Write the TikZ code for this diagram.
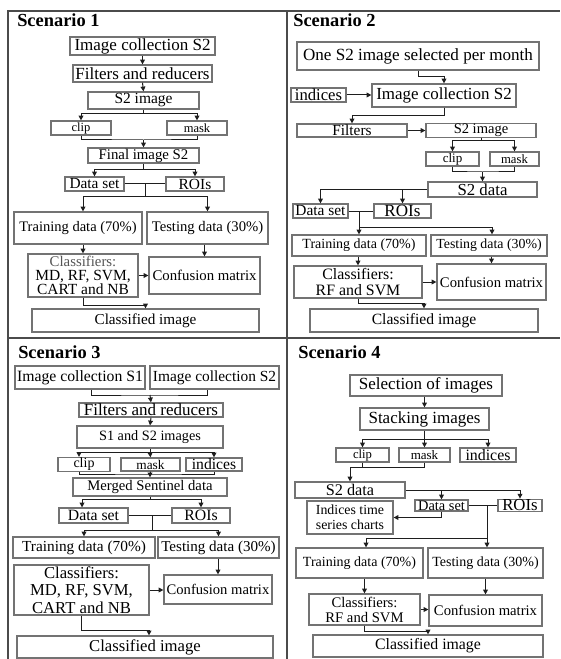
\documentclass[tikz,border=0pt]{standalone}
\usepackage{fontspec}
\setmainfont{Liberation Serif}
\usetikzlibrary{arrows.meta}
\definecolor{boxgray}{RGB}{115,115,115}
\definecolor{linec}{RGB}{30,30,30}
\definecolor{framec}{RGB}{75,75,75}
\definecolor{cgray}{RGB}{85,85,85}
\newcommand\fz[1]{\fontsize{#1}{#1}\selectfont}
\newcommand\bx[7][]{\node[bx,#1,minimum width={(#5-#3)*0.75pt},minimum height={(#6-#4)*0.75pt}] (#2) at ({(#3+#5)/2},{(#4+#6)/2}) {#7};}
\tikzset{
  bx/.style={draw=boxgray,line width=0.9pt,fill=white,inner sep=0.5pt,align=center,text=black},
  arr/.style={draw=linec,line width=0.75pt,-{Triangle[length=3.6pt,width=3.6pt]}},
  ln/.style={draw=linec,line width=0.75pt},
  frame/.style={draw=framec,line width=1.5pt},
  frametwo/.style={draw=framec,line width=1.1pt},
  ttl/.style={font=\bfseries\fontsize{13.8}{14}\selectfont,anchor=base west,inner sep=0pt}
}
\begin{document}
\begin{tikzpicture}[x=0.75pt,y=-0.75pt]
\useasboundingbox (0,0) rectangle (560,659);
% frame
\draw[frame] (8,11.5) -- (560,11.5);
\draw[frame] (8,10.5) -- (8,659);
\draw[frame] (8,338) -- (560,338);
\draw[frametwo] (287,11.5) -- (287,659);
% titles
\node[ttl] (t1) at (17,27) {Scenario 1};
\node[ttl] (t2) at (293,27) {Scenario 2};
\node[ttl] (t3) at (18,358) {Scenario 3};
\node[ttl] (t4) at (298,358) {Scenario 4};

% ---------------- Scenario 1
\bx[font=\fz{12.75}]{s1ic}{70}{37}{215}{55}{Image collection S2}
\bx[font=\fz{12.75}]{s1fr}{73}{65}{212}{82}{Filters and reducers}
\bx[font=\fz{11.6}]{s1img}{88}{92}{199}{109}{S2 image}
\bx[font=\fz{9.4}]{s1clip}{51}{121}{111}{135}{clip}
\bx[font=\fz{9.4}]{s1mask}{167}{121}{227}{135}{mask}
\bx[font=\fz{11.1}]{s1fin}{88}{148}{199}{163}{Final image S2}
\bx[font=\fz{11.5}]{s1ds}{65}{177}{124}{191}{Data set}
\bx[font=\fz{11.6}]{s1roi}{166}{177}{224}{191}{ROIs}
\bx[font=\fz{10.9}]{s1tr}{14}{212}{142}{244}{Training data (70\%)}
\bx[font=\fz{11}]{s1te}{147}{212}{268}{244}{Testing data (30\%)}
\bx[font=\fontsize{11.6}{10.5}\selectfont]{s1cl}{28}{254}{138}{297}{{\color{cgray}\fontsize{11.1}{10.5}\selectfont Classifiers:}\\MD, RF, SVM,\\CART and NB}
\bx[font=\fz{11.1}]{s1cm}{149}{257}{260}{294}{Confusion matrix}
\bx[font=\fz{11.4}]{s1ci}{32}{309}{259}{332}{Classified image}

\draw[arr] (s1ic.south) -- (s1fr.north);
\draw[arr] (s1fr.south) -- (s1img.north);
\coordinate (s1a) at (143.5,114);
\draw[ln] (s1img.south) -- (s1a);
\draw[arr] (s1a) -| (s1clip.north);
\draw[arr] (s1a) -| (s1mask.north);
\coordinate (s1b) at (143.5,140);
\draw[ln] (s1clip.south) |- (s1b) -| (s1mask.south);
\draw[arr] (s1b) -- (s1fin.north);
\coordinate (s1c) at (143.5,170);
\draw[ln] (s1fin.south) -- (s1c);
\draw[arr] (s1c) -| (s1ds.north);
\draw[arr] (s1c) -| (s1roi.north);
\draw[ln] (s1ds.east) -- (s1roi.west);
\coordinate (s1d) at (145,197);
\draw[ln] (s1d |- s1ds.east) -- (s1d);
\draw[arr] (s1d) -| ([xshift=3.75pt]s1tr.north);
\draw[arr] (s1d) -| (s1te.north);
\draw[arr] ([xshift=3.75pt]s1tr.south) -- (s1cl.north);
\draw[arr] (s1cm.north |- s1te.south) -- (s1cm.north);
\draw[arr] (s1cl.east) -- (s1cm.west |- s1cl.east);
\coordinate (s1e) at (83,305);
\draw[arr] (s1cl.south) -- (s1e) -| (s1ci.north);

% ---------------- Scenario 2
\bx[font=\fz{12.8}]{s2one}{297}{42}{539}{70}{One S2 image selected per month}
\bx[font=\fz{12.7}]{s2ic}{372}{84}{516}{107}{Image collection S2}
\bx[font=\fz{12.5}]{s2ind}{291}{88}{346}{102}{indices}
\bx[font=\fz{11.5}]{s2fil}{297}{124}{407}{137}{Filters}
\bx[font=\fz{10.9}]{s2img}{426}{124}{536}{137}{S2 image}
\bx[font=\fz{9.75}]{s2clip}{426}{152}{479}{166}{clip}
\bx[font=\fz{9.5}]{s2mask}{490}{152}{539}{166}{mask}
\bx[font=\fz{12.6}]{s2data}{428}{182}{537}{197}{S2 data}
\bx[font=\fz{11.55}]{s2ds}{293}{204}{348}{218}{Data set}
\bx[font=\fz{12.8}]{s2roi}{374}{204}{431}{218}{ROIs}
\bx[font=\fz{10.5}]{s2tr}{292}{235}{426}{256}{Training data (70\%)}
\bx[font=\fz{10.4}]{s2te}{431}{235}{547}{256}{Testing data (30\%)}
\bx[font=\fontsize{11.9}{12}\selectfont]{s2cl}{294}{266}{422}{298}{Classifiers:\\RF and SVM}
\bx[font=\fz{11}]{s2cm}{437}{264}{546}{300}{Confusion matrix}
\bx[font=\fz{11.7}]{s2ci}{310}{309}{538}{332}{Classified image}

\coordinate (s2a) at (418,77);
\draw[arr] (s2one.south) -- (s2a) -| (s2ic.north);
\draw[arr] (s2ind.east) -- (s2ic.west |- s2ind.east);
\coordinate (s2b) at (444,116);
\draw[arr] (s2ic.south) -- (s2b) -| (s2fil.north);
\draw[arr] (s2fil.east) -- (s2img.west);
\coordinate (s2c) at (481,141);
\draw[ln] (s2img.south) -- (s2c);
\draw[arr] (s2c) -| (s2clip.north);
\draw[arr] (s2c) -| (s2mask.north);
\coordinate (s2d) at (482.5,172);
\draw[ln] (s2clip.south) |- (s2d) -| (s2mask.south);
\draw[arr] (s2d) -- (s2data.north);
\draw[arr] (s2data.west) -| (s2ds.north);
\draw[arr] (s2data.west -| s2roi.north) -- (s2roi.north);
\draw[ln] (s2ds.east) -- (s2roi.west);
\coordinate (s2e) at (359,227);
\draw[arr] (s2e |- s2ds.east) -- (s2tr.north);
\draw[arr] (s2e) -| ([xshift=2.25pt]s2te.north);
\draw[arr] (s2cl.north |- s2tr.south) -- (s2cl.north);
\draw[arr] (s2cm.north |- s2te.south) -- (s2cm.north);
\draw[arr] (s2cl.east) -- (s2cm.west |- s2cl.east);
\coordinate (s2g) at (358,303);
\draw[arr] (s2cl.south) -- (s2g) -| (s2ci.north);

% ---------------- Scenario 3
\bx[font=\fz{11.8}]{s3c1}{15}{366}{145}{389}{Image collection S1}
\bx[font=\fz{11.55}]{s3c2}{150}{366}{279}{389}{Image collection S2}
\bx[font=\fz{12.75}]{s3fr}{79}{403}{223}{417}{Filters and reducers}
\bx[font=\fz{10.7}]{s3img}{77}{426}{223}{448}{S1 and S2 images}
\bx[font=\fz{10.5}]{s3clip}{58}{458}{110}{471}{clip}
\bx[font=\fz{10}]{s3mask}{121}{458}{180}{471}{mask}
\bx[font=\fz{11.7}]{s3ind}{186}{458}{242}{471}{indices}
\bx[font=\fz{11}]{s3mer}{73}{478}{227}{496}{Merged Sentinel data}
\bx[font=\fz{11.8}]{s3ds}{59}{508}{128}{523}{Data set}
\bx[font=\fz{11.85}]{s3roi}{172}{508}{230}{523}{ROIs}
\bx[font=\fz{11.5}]{s3tr}{13}{537}{155}{558}{Training data (70\%)}
\bx[font=\fz{11.3}]{s3te}{158}{537}{279}{558}{Testing data (30\%)}
\bx[font=\fontsize{12.5}{13.3}\selectfont]{s3cl}{14}{565}{149}{615}{Classifiers:\\MD, RF, SVM,\\CART and NB}
\bx[font=\fz{10.95}]{s3cm}{164}{575}{272}{604}{Confusion matrix}
\bx[font=\fz{12.5}]{s3ci}{17}{636}{273}{658}{Classified image}

\coordinate (s3a) at (150,395);
\draw[ln] ([xshift=8.25pt]s3c1.south) |- (s3a) -| ([xshift=-4.9pt]s3c2.south);
\draw[arr] (s3a) -- (s3fr.north);
\draw[arr] (s3fr.south) -- (s3img.north);
\coordinate (s3b) at (150,452);
\draw[ln] (s3img.south) -- (s3b);
\draw[arr] (s3b) -| ([xshift=-3.75pt]s3clip.north);
\draw[arr] (s3b) -- (s3mask.north);
\draw[arr] (s3b) -| (s3ind.north);
\coordinate (s3c) at (150,474);
\draw[ln] ([xshift=-3.75pt]s3clip.south) |- (s3c) -| (s3ind.south);
\draw[ln] (s3mask.south) -- (s3c);
\draw[arr] (s3c) -- (s3mer.north);
\coordinate (s3d) at (150,499);
\draw[ln] (s3mer.south) -- (s3d);
\draw[arr] (s3d) -| ([xshift=-8.6pt]s3ds.north);
\draw[arr] (s3d) -| (s3roi.north);
\draw[ln] (s3ds.east) -- (s3roi.west);
\coordinate (s3e) at (152,530);
\draw[ln] (s3e |- s3ds.east) -- (s3e);
\draw[arr] (s3e) -| (s3tr.north);
\draw[arr] (s3e) -| (s3te.north);
\draw[arr] (s3cm.north |- s3te.south) -- (s3cm.north);
\draw[arr] (s3cl.east) -- (s3cm.west |- s3cl.east);
\coordinate (s3f) at (81.5,630);
\draw[arr] (s3cl.south) -- (s3f) -| ([xshift=3pt]s3ci.north);

% ---------------- Scenario 4
\bx[font=\fz{12.75}]{s4sel}{350}{375}{502}{396}{Selection of images}
\bx[font=\fz{12.75}]{s4st}{360}{408}{489}{430}{Stacking images}
\bx[font=\fz{9.5}]{s4clip}{336}{448}{389}{462}{clip}
\bx[font=\fz{9.75}]{s4mask}{399}{448}{450}{462}{mask}
\bx[font=\fz{11.9}]{s4ind}{460}{448}{516}{462}{indices}
\bx[font=\fontsize{10.4}{11.25}\selectfont]{s4its}{307}{501}{393}{534}{Indices time\\series charts}
\bx[font=\fz{12.2}]{s4s2}{295}{482}{405}{498}{S2 data}
\bx[font=\fz{10.8}]{s4ds}{415}{500}{468}{511}{Data set}
\bx[font=\fz{12.6}]{s4roi}{498}{500}{542}{511}{ROIs}
\bx[font=\fz{10.5}]{s4tr}{296}{548}{423}{578}{Training data (70\%)}
\bx[font=\fz{10.5}]{s4te}{428}{548}{543}{578}{Testing data (30\%)}
\bx[font=\fontsize{11}{11.25}\selectfont]{s4cl}{309}{594}{420}{625}{Classifiers:\\RF and SVM}
\bx[font=\fz{11}]{s4cm}{429}{595}{542}{626}{Confusion matrix}
\bx[font=\fz{11.85}]{s4ci}{313}{635}{543}{657}{Classified image}

\draw[arr] (s4st.north |- s4sel.south) -- (s4st.north);
\coordinate (s4a) at (424.5,439);
\draw[ln] (s4st.south) -- (s4a);
\draw[arr] (s4a) -| (s4clip.north);
\draw[arr] (s4a) -- (s4mask.north);
\draw[arr] (s4a) -| (s4ind.north);
\coordinate (s4b) at (350,467);
\draw[ln] (s4clip.south) -- (s4clip.south |- s4b);
\draw[arr] (s4mask.south) |- (s4b) -- (s4s2.north);
\draw[arr] (s4s2.east) -| (s4roi.north);
\draw[arr] (s4s2.east -| s4ds.north) -- (s4ds.north);
\draw[ln] (s4ds.east) -- (s4roi.west);
\coordinate (s4c) at (487,538);
\draw[ln] (s4c |- s4ds.east) -- (s4c);
\draw[arr] (s4c) -| ([xshift=4.9pt]s4tr.north);
\draw[arr] (s4c) -- (s4c |- s4te.north);
\draw[arr] (s4ds.south) |- (s4its.east);
\draw[arr] (s4cl.north |- s4tr.south) -- (s4cl.north);
\draw[arr] (s4cm.north |- s4te.south) -- (s4cm.north);
\draw[arr] (s4cl.east) -- (s4cm.west |- s4cl.east);
\coordinate (s4d) at (364.5,631);
\draw[arr] (s4cl.south) -- (s4d) -| (s4ci.north);
\end{tikzpicture}
\end{document}
